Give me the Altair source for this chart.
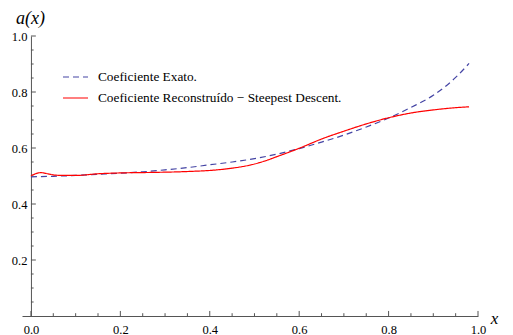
import altair as alt
import pandas as pd

# ---- data ----
series_names = ["Coeficiente Exato.", "Coeficiente Reconstruído − Steepest Descent."]

exact_x = [0.0, 0.05, 0.1, 0.15, 0.2, 0.25, 0.3, 0.35, 0.4, 0.45, 0.5, 0.55,
           0.6, 0.65, 0.7, 0.75, 0.8, 0.85, 0.9, 0.95, 0.98]
exact_y = [0.497, 0.499, 0.502, 0.506, 0.51, 0.515, 0.522, 0.53, 0.54, 0.55, 0.562, 0.578,
           0.598, 0.621, 0.646, 0.675, 0.707, 0.745, 0.788, 0.852, 0.902]

recon_x = [0.0, 0.022, 0.04, 0.055, 0.08, 0.1, 0.15, 0.2, 0.28, 0.35, 0.41, 0.45,
           0.49, 0.52, 0.55, 0.6, 0.65, 0.7, 0.75, 0.8, 0.85, 0.9, 0.95, 0.98]
recon_y = [0.501, 0.512, 0.507, 0.503, 0.502, 0.502, 0.508, 0.511, 0.513, 0.516, 0.521, 0.528,
           0.539, 0.552, 0.569, 0.599, 0.632, 0.660, 0.686, 0.708, 0.725, 0.736, 0.744, 0.747]

x_major = [0.0, 0.2, 0.4, 0.6, 0.8, 1.0]
x_minor = [0.05, 0.1, 0.15, 0.25, 0.3, 0.35, 0.45, 0.5, 0.55, 0.65, 0.7, 0.75, 0.85, 0.9, 0.95]
y_major = [0.2, 0.4, 0.6, 0.8, 1.0]
y_minor = [0.05, 0.1, 0.15, 0.25, 0.3, 0.35, 0.45, 0.5, 0.55, 0.65, 0.7, 0.75, 0.85, 0.9, 0.95]

colors = ["#4444a4", "#ff0000"]
dashes = [[6, 4], [1, 0]]

df = pd.concat([
    pd.DataFrame({"x": exact_x, "y": exact_y, "series": series_names[0]}),
    pd.DataFrame({"x": recon_x, "y": recon_y, "series": series_names[1]}),
])

FONT = "Times New Roman, Liberation Serif, DejaVu Serif, serif"
AXC = "#555555"

xscale = alt.Scale(domain=[-0.02, 1.0], nice=False, zero=False)
yscale = alt.Scale(domain=[0.0, 1.0], nice=False, zero=False)

legend = alt.Legend(title=None, orient="none", legendX=40, legendY=27.5)

lines = alt.Chart(df).mark_line(strokeWidth=1.2, interpolate="monotone").encode(
    x=alt.X("x:Q", scale=xscale, axis=alt.Axis(
        values=x_major, format=".1f", ticks=False, grid=False,
        domainColor=AXC, domainWidth=1, labelPadding=7, labelFlush=False,
        labelFont=FONT, labelFontSize=12.5, labelColor="black",
        title="x", titleFont=FONT, titleFontSize=17, titleFontStyle="italic",
        titleFontWeight="normal", titleColor="black", titleX=472, titleY=7,
        titleBaseline="alphabetic", titleAlign="center")),
    y=alt.Y("y:Q", scale=yscale, axis=alt.Axis(
        values=y_major, format=".1f", ticks=False, grid=False, offset=-8.95,
        domainColor=AXC, domainWidth=1, labelPadding=4, labelFlush=False,
        labelFont=FONT, labelFontSize=12.5, labelColor="black",
        title="a(x)", titleFont=FONT, titleFontSize=18, titleFontStyle="italic",
        titleFontWeight="normal", titleColor="black", titleAngle=0,
        titleX=-1, titleY=-13, titleBaseline="alphabetic", titleAlign="center")),
    color=alt.Color("series:N", scale=alt.Scale(domain=series_names, range=colors), legend=legend),
    strokeDash=alt.StrokeDash("series:N", scale=alt.Scale(domain=series_names, range=dashes), legend=legend),
)

xt_major = alt.Chart(pd.DataFrame({"x": x_major})).mark_rule(color=AXC, strokeWidth=1).encode(
    x=alt.X("x:Q", scale=xscale), y=alt.datum(0.0), y2=alt.datum(0.018))
xt_minor = alt.Chart(pd.DataFrame({"x": x_minor})).mark_rule(color=AXC, strokeWidth=1).encode(
    x=alt.X("x:Q", scale=xscale), y=alt.datum(0.0), y2=alt.datum(0.010))
yt_major = alt.Chart(pd.DataFrame({"y": y_major})).mark_rule(color=AXC, strokeWidth=1).encode(
    y=alt.Y("y:Q", scale=yscale), x=alt.datum(0.0), x2=alt.datum(0.011))
yt_minor = alt.Chart(pd.DataFrame({"y": y_minor})).mark_rule(color=AXC, strokeWidth=1).encode(
    y=alt.Y("y:Q", scale=yscale), x=alt.datum(0.0), x2=alt.datum(0.006))

chart = alt.layer(xt_major, xt_minor, yt_major, yt_minor, lines).properties(
    width=456, height=280,
    autosize=alt.AutoSizeParams(type="none"),
    padding={"left": 14, "top": 28, "right": 21, "bottom": 20},
).configure_view(stroke=None).configure_legend(
    symbolType="stroke", symbolSize=625, symbolStrokeWidth=1.2, padding=0,
    labelFont=FONT, labelFontSize=13.3, labelColor="black", labelOffset=9,
    rowPadding=1, labelLimit=500,
)

chart.save("out.html", embed_options={"renderer": "svg", "actions": False})
